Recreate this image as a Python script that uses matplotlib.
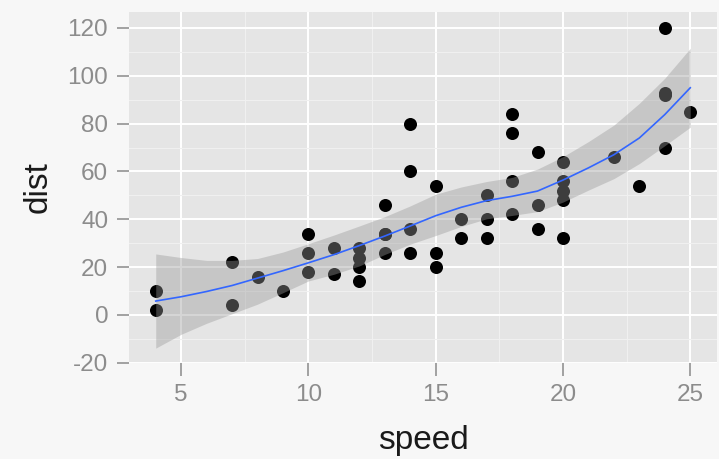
import matplotlib
matplotlib.use("Agg")
import matplotlib.pyplot as plt
from matplotlib.ticker import MultipleLocator

# cars data
speed = [4, 4, 7, 7, 8, 9, 10, 10, 10, 11, 11, 12, 12, 12, 12, 13, 13, 13, 13,
         14, 14, 14, 14, 15, 15, 15, 16, 16, 17, 17, 17, 18, 18, 18, 18, 19, 19,
         19, 20, 20, 20, 20, 20, 22, 23, 24, 24, 24, 24, 25]
dist = [2, 10, 4, 22, 16, 10, 18, 26, 34, 17, 28, 14, 20, 24, 28, 26, 34, 34, 46,
        26, 36, 60, 80, 20, 26, 54, 32, 40, 32, 40, 50, 42, 56, 76, 84, 36, 46,
        68, 32, 48, 52, 56, 64, 66, 54, 70, 92, 93, 120, 85]

# smoother
smooth_x = list(range(4, 26))
smooth_fit = [5.8, 7.6, 9.8, 12.3, 15.4, 18.5, 21.8, 25.2, 29.0, 33.0, 37.2,
              41.5, 45.0, 47.8, 49.6, 51.8, 56.4, 61.5, 67.0, 74.0, 83.8, 95.0]
smooth_hi = [25.5, 24.0, 22.8, 22.8, 23.6, 26.3, 29.8, 33.4, 37.2, 41.1, 45.6,
             50.5, 53.5, 55.8, 57.5, 61.0, 66.2, 72.5, 79.4, 88.5, 99.0, 111.5]
smooth_lo = [-13.9, -8.1, -3.5, 0.5, 4.5, 9.3, 14.2, 17.0, 20.5, 25.3, 29.6,
             33.2, 37.0, 40.2, 41.6, 43.2, 47.2, 52.2, 57.0, 63.3, 70.8, 78.5]

x_ticks = [5, 10, 15, 20, 25]
y_ticks = [-20, 0, 20, 40, 60, 80, 100, 120]

plt.rcParams["font.family"] = ["Liberation Sans", "DejaVu Sans"]
plt.rcParams["axes.unicode_minus"] = False

fig = plt.figure(figsize=(7.19, 4.59), dpi=100, facecolor="#f7f7f7")
ax = fig.add_axes([0.1794, 0.2092, 0.8178, 0.7647])
ax.set_facecolor("#e5e5e5")

ax.scatter(speed, dist, s=88, color="black", linewidths=0, zorder=2)
ax.fill_between(smooth_x, smooth_lo, smooth_hi, color="#999999", alpha=0.4,
                linewidth=0, zorder=3)
ax.plot(smooth_x, smooth_fit, color="#3366ff", lw=1.2, zorder=4)

ax.set_xlim(2.95, 26.05)
ax.set_ylim(-20.1, 126.7)
ax.set_xticks(x_ticks)
ax.set_yticks(y_ticks)
ax.xaxis.set_minor_locator(MultipleLocator(2.5))
ax.yaxis.set_minor_locator(MultipleLocator(10))

ax.grid(True, which="major", color="white", lw=1.4, zorder=1)
ax.grid(True, which="minor", color="#f0f0f0", lw=0.8, zorder=1)
ax.set_axisbelow(True)
for sp in ax.spines.values():
    sp.set_visible(False)

ax.tick_params(which="major", length=9, width=1.1, color="#8a8a8a",
               labelcolor="#8c8c8c", labelsize=17.5, pad=6)
ax.tick_params(which="minor", length=0)

ax.set_xlabel("speed", fontsize=24, color="#1a1a1a", labelpad=14)
ax.set_ylabel("dist", fontsize=24, color="#1a1a1a", labelpad=10)

fig.savefig("out.png", dpi=100, facecolor=fig.get_facecolor())
